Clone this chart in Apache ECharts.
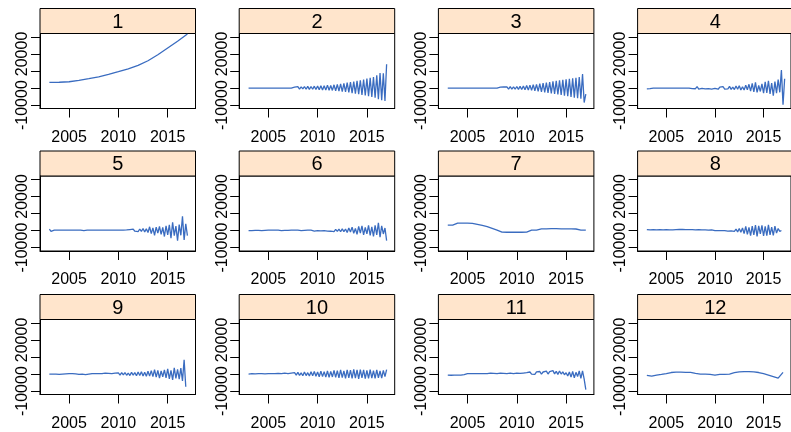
<!DOCTYPE html>
<html>
<head>
<meta charset="utf-8">
<script src="https://cdn.jsdelivr.net/npm/echarts@6/dist/echarts.min.js"></script>
<style>
  html, body { margin: 0; padding: 0; background: #fff; }
  #chart { width: 791px; height: 432px; }
</style>
</head>
<body>
<div id="chart"></div>
<script>
// panel titles
var panelNames = ['1', '2', '3', '4', '5', '6', '7', '8', '9', '10', '11', '12'];
// every series starts at 2003, step in years
var startYear = 2003;
var stepYears = [1, 1/6, 1/6, 1/6, 1/6, 1/6, 0.5, 1/6, 1/6, 1/6, 1/6, 0.5];
// axis ticks
var xTicks = [2005, 2010, 2015];
var yTicks = [-10000, 0, 10000, 20000, 30000];
var yLabels = [-10000, 20000];

// panel 1, yearly
var p1 = [3300, 3400, 3700, 4500, 5500, 6600, 8000, 9600, 11300, 13300, 16000, 19500, 23500, 27500, 31700];
// panel 2, every 2 months
var p2 = [
  0, 0, 0, 0, 0, 0,
  0, 0, 0, 0, 0, 0,
  0, 0, 0, 0, 0, 0,
  0, 0, 0, 0, 0, 0,
  0, 0, 0, 0, 500, -300,
  800, -600, 700, -500, 900, -700,
  1000, -800, 900, -700, 1100, -900,
  1200, -1000, 1400, -1100, 1300, -1200,
  1700, -1300, 1500, -1400, 1900, -1600,
  2200, -1800, 2500, -2100, 2800, -2300,
  3200, -2600, 3500, -3000, 3800, -3300,
  4200, -3600, 4600, -4000, 5000, -4300,
  5500, -4800, 6000, -5200, 6500, -5700,
  7500, -6500, 8800, -7200, 8600, -7600,
  14000
];
var p3 = [
  0, 0, 0, 0, 0, 0,
  0, 0, 0, 0, 0, 0,
  0, 0, 0, 0, 0, 0,
  0, 0, 0, 0, 0, 0,
  0, 0, 0, 0, 0, 0,
  0, 0, 500, -400, 600, -500,
  700, -600, 800, -600, 700, -700,
  900, -800, 1000, -900, 1200, -1000,
  1500, -1200, 1700, -1400, 2000, -1600,
  2200, -1900, 2600, -2200, 2900, -2500,
  3200, -2800, 3500, -3100, 3900, -3400,
  4200, -3800, 4500, -4100, 4800, -4500,
  5100, -4800, 5400, -5200, 5700, -5600,
  6000, -6000, 6500, -6200, 8200, -8500,
  -3500
];
var p4 = [
  -500, 0, -300, 0, 0, 0,
  0, 0, 0, 0, 0, 0,
  0, 0, 0, 0, 0, 0,
  0, 0, 0, 0, 0, 0,
  0, 0, 0, 200, -300, 600,
  -400, 900, -600, 300, -200, 700,
  -500, 400, -300, 800, -600, 300,
  -200, 600, -700, 500, -400, 900,
  -600, 300, -500, 1000, -800, 600,
  -900, 1200, -700, 1400, -1100, 800,
  -1200, 1600, -1000, 2200, -1800, 2800,
  -2200, 3300, -2600, 1500, -2000, 2500,
  -3000, 3600, -2800, 4300, -3500, 2900,
  -4500, 3800, -3000, 5000, -2500, 10600,
  -9800, 5500
];
var p5 = [
  800, -500, 300, 200, 300, 200,
  300, 200, 300, 300, 200, 300,
  300, 200, 300, 200, 300, 200,
  200, 300, 200, 0, 300, 200,
  0, 300, 200, 300, 200, 300,
  200, 300, 100, 300, 200, 300,
  200, 300, 200, 300, 100, 300,
  200, 300, 0, 300, 200, 400,
  -200, 600, -300, 800, -400, 700,
  -600, 900, -500, 1200, -800, 1000,
  -1200, 2200, -1800, 1600, -2800, 2000,
  -1500, 2500, -2200, 1800, -3500, 2800,
  -2500, 3300, -4500, 4800, -3000, 2600,
  -5900, 3500, -2800, 8300, -5500, 4000,
  -3000
];
var p6 = [
  0, 200, 0, 200, 100, 200,
  100, 200, 0, 200, 100, 200,
  200, 100, 200, 0, 200, 100,
  200, 100, 0, 200, 100, 200,
  100, 0, 200, 100, 200, 0,
  200, 100, 0, -200, 100, 0,
  200, -100, 200, 0, -300, 200,
  0, 300, -200, 300, -100, 400,
  -300, 600, -400, 500, -600, 700,
  -500, 800, -700, 1000, -600, 900,
  -1200, 1500, -900, 2000, -1600, 1200,
  -2200, 2500, -1500, 2800, -2600, 1800,
  -2000, 3000, -2800, 2200, -3500, 3000,
  -2500, 4500, -3900, 2800, -2000, 1500,
  -5900
];
// panel 7, half-yearly
var p7 = [3200, 3200, 4300, 4300, 4300, 4200, 3600, 3000, 2300, 1300, 300, -900, -1000, -1000, -1000,
  -1000, -900, 200, 200, 1000, 1000, 1100, 1100, 1000, 1000, 1000, 900, 300, 200];
var p8 = [
  500, 700, 400, 700, 500, 600,
  400, 700, 500, 600, 400, 700,
  500, 600, 400, 700, 400, 600,
  500, 300, 600, 400, 600, 300,
  500, 200, 500, 300, 500, 200,
  400, 200, 500, 100, 400, 200,
  400, 100, 300, 200, 400, 100,
  0, 200, 0, 100, 0, 200,
  0, 300, -300, 500, -200, 400,
  -500, 800, -800, 1200, -1000, 1500,
  -1800, 2500, -2200, 1800, -3000, 2600,
  -2500, 3200, -3400, 2800, -2000, 3000,
  -3200, 2400, -3000, 3300, -2600, 2000,
  -2800, 2600, -1500, 1200, -500, 0
];
var p9 = [
  0, 200, -100, 200, 0, 200,
  -200, 100, 0, -200, 100, 0,
  200, -100, 300, -200, 100, 0,
  -200, 300, -100, 200, -300, 200,
  0, -300, 300, -200, 300, -100,
  300, -400, 200, -300, 500, -200,
  400, -500, 300, -600, 500, -400,
  700, -600, 800, -500, 900, -700,
  600, -900, 1000, -600, 800, -1000,
  1200, -800, 1400, -1100, 1000, -1300,
  1600, -1200, 2000, -1500, 2600, -1800,
  2200, -2400, 1800, -1600, 2500, -2200,
  3000, -2800, 2200, -3400, 3600, -2500,
  2800, -3000, 3500, -4000, 8300, -7500
];
var p10 = [
  0, -300, 200, -200, 100, -300,
  200, -200, 300, -300, 100, -200,
  300, -300, 200, -400, 300, -200,
  400, -300, 200, -400, 500, -300,
  300, -500, 600, -400, 800, -600,
  1000, -800, 700, -1000, 1200, -900,
  800, -1200, 1300, -1000, 1500, -1300,
  1200, -1600, 1700, -1500, 1400, -1800,
  1800, -2000, 1600, -1700, 2200, -2000,
  2000, -2300, 2400, -2100, 1900, -2500,
  2500, -2200, 2300, -2600, 2700, -2400,
  2400, -2800, 2600, -2300, 2500, -2700,
  2200, -2500, 2600, -2400, 2000, -2600,
  2400, -2200, 1800, -2400, 2200, -1500,
  2600
];
var p11 = [
  -600, -600, -700, -500, -600, -600,
  -600, 400, -600, 300, -300, 0,
  200, 200, 200, 200, 200, 200,
  200, 200, 200, 200, 200, 200,
  200, 0, 500, -200, 400, -300,
  300, -400, 500, -200, 400, -500,
  300, -300, 500, -400, 200, -300,
  500, -300, 400, -200, 600, -400,
  800, -100, 1200, 0, 1000, -200,
  1300, 200, 1500, -100, 1200, 300,
  1700, 0, 1400, 300, 2000, 100,
  1600, -200, 1800, 0, 1300, -400,
  800, -1200, 1200, -1800, 1500, -2200,
  1000, -1500, 1800, -2500, 1900, -3000,
  -9100
];
// panel 12, half-yearly
var p12 = [-800, -1200, -600, -200, 300, 900, 1100, 1100, 1000, 1000, 400, 0, 0, -200, -600,
  -200, -200, 0, 800, 1300, 1400, 1400, 1300, 900, 200, -600, -1500, -2400, 1000];

var panelValues = [p1, p2, p3, p4, p5, p6, p7, p8, p9, p10, p11, p12];

var chartDom = document.getElementById('chart');
var myChart = echarts.init(chartDom);
var option;

var font = 'Liberation Sans, Arial, sans-serif';
var colLeft = [40, 239.2, 438.4, 637.6];
var rowTop = [33.5, 176, 319.5];
var panelW = 155.5;
var panelH = 75;
var stripH = 25;

var grids = [], xAxes = [], yAxes = [], series = [], graphics = [];

panelValues.forEach(function (vals, i) {
    var r = Math.floor(i / 4), c = i % 4;
    var left = colLeft[c], top = rowTop[r];
    grids.push({
        left: left, top: top, width: panelW, height: panelH,
        show: true, borderColor: '#000', borderWidth: 1
    });
    xAxes.push({
        type: 'value', gridIndex: i,
        min: 2002.05, max: 2017.82,
        axisLine: { show: true, onZero: false, lineStyle: { color: '#000', width: 1 } },
        axisTick: { show: true, length: 9, customValues: xTicks, lineStyle: { color: '#000', width: 1 } },
        axisLabel: {
            customValues: xTicks, color: '#000', fontSize: 16, fontFamily: font, margin: 21,
            formatter: function (v) { return String(v); }
        },
        splitLine: { show: false }
    });
    yAxes.push({
        type: 'value', gridIndex: i,
        min: -12000, max: 32000,
        axisLine: { show: true, onZero: false, lineStyle: { color: '#000', width: 1 } },
        axisTick: { show: true, length: 9, customValues: yTicks, lineStyle: { color: '#000', width: 1 } },
        axisLabel: {
            customValues: yLabels, rotate: 90, color: '#000', fontSize: 16, fontFamily: font, margin: 9,
            showMinLabel: true, showMaxLabel: true, hideOverlap: false,
            formatter: function (v) { return String(v); }
        },
        splitLine: { show: false }
    });
    series.push({
        type: 'line', xAxisIndex: i, yAxisIndex: i,
        data: vals.map(function (v, k) { return [startYear + k * stepYears[i], v]; }),
        showSymbol: false, clip: true,
        lineStyle: { color: '#3a6cc0', width: 1.3 },
        animation: false
    });
    // strip on top of each panel
    graphics.push({
        type: 'rect',
        shape: { x: left, y: top - stripH, width: panelW, height: stripH },
        style: { fill: '#ffe5cc', stroke: '#000', lineWidth: 1 }
    });
    graphics.push({
        type: 'text',
        x: left + panelW / 2, y: top - stripH / 2 + 1,
        style: { text: panelNames[i], fill: '#000', font: '20px ' + font, textAlign: 'center', textVerticalAlign: 'middle' }
    });
});

option = {
    backgroundColor: '#fff',
    animation: false,
    grid: grids,
    xAxis: xAxes,
    yAxis: yAxes,
    series: series,
    graphic: graphics
};
option && myChart.setOption(option);
</script>
</body>
</html>
